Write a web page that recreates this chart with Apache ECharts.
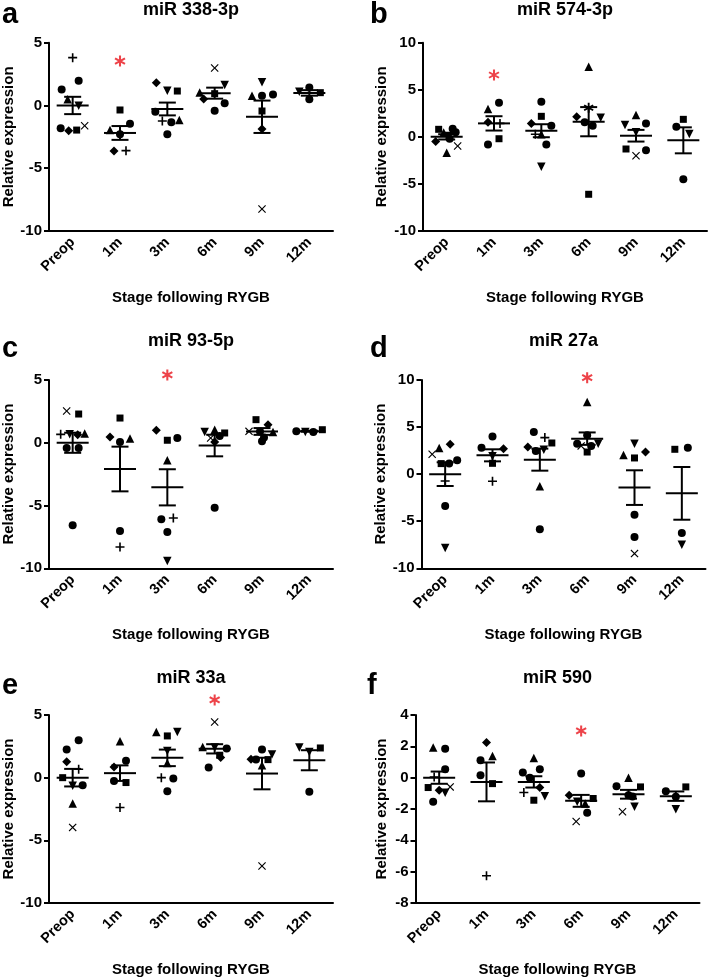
<!DOCTYPE html>
<html><head><meta charset="utf-8">
<script src="https://cdn.jsdelivr.net/npm/echarts/dist/echarts.min.js"></script>
<style>html,body{margin:0;padding:0;background:#fff}#c{width:709px;height:978px}</style>
</head><body><div id="c"></div><script>
const categories = ['Preop', '1m', '3m', '6m', '9m', '12m'];

// ---- a: miR 338-3p
const aValues = [[3.81,1.97,1.28,0.49,-0.02,-1.82,-2.01,-1.96,-1.61],[-0.36,-1.96,-1.45,-2.3,-3.63,-3.6],[1.81,1.18,1.15,-0.5,-1.24,-1.34,-1.16,-2.3],[2.98,1.63,1.04,0.94,0.51,0.17,-0.42],[1.84,0.78,0.78,0.88,-0.44,-1.88,-8.25],[1.44,1.1,1.02,0.49]];
const aSymbols = [['+','o','o','^','v','o','d','s','x'],['s','^','o','o','d','+'],['d','v','s','o','+','o','^','o'],['x','v','^','s','d','o','o'],['v','^','o','o','s','d','x'],['o','v','s','o']];
const aMeans = [0,-2.19,-0.28,0.98,-0.9,1.0];
const aSems = [0.69,0.55,0.51,0.44,1.29,0.22];
const aStar = [1, 3.54];

// ---- b: miR 574-3p
const bValues = [[0.8,0.45,0.85,0.5,0.1,-0.5,-0.2,-0.97,-1.68],[3.63,2.96,1.54,1.43,-0.8,-0.2],[3.73,2.18,1.43,1.19,0.27,0.27,-0.8,-3.17],[7.45,3.1,2.14,2.04,1.54,1.19,-6.1],[2.32,1.26,1.43,0.48,-1.29,-1.43,-2.0],[1.86,1.08,0.3,-4.51]];
const bSymbols = [['s','^','o','o','v','d','o','x','^'],['o','^','d','+','o','s'],['o','s','d','o','^','+','o','v'],['^','*','d','v','o','o','s'],['^','v','o','v','s','o','x'],['s','o','v','o']];
const bMeans = [0,1.43,0.65,1.61,0.12,-0.37];
const bSems = [0.28,0.76,0.69,1.55,0.62,1.38];
const bStar = [1, 6.57];

// ---- c: miR 93-5p
const cValues = [[2.53,2.29,0.67,0.67,0.64,0.73,-0.42,-0.42,-6.57],[1.97,0.46,0.06,0.33,-7.03,-8.3],[0.99,0.2,0.38,-1.4,-6.1,-5.99,-7.1,-9.41],[0.86,1.04,0.78,0.38,0.54,0.06,-5.17],[1.84,0.91,1.44,0.86,0.9,0.41,0.12],[0.91,0.86,0.86,1.04]];
const cSymbols = [['x','s','+','v','d','^','o','o','o'],['s','d','o','^','o','+'],['d','s','o','^','o','+','o','v'],['v','^','s','x','o','d','o'],['s','x','d','^','o','o','o'],['o','v','o','s']];
const cMeans = [0,-2.09,-3.55,-0.22,0.9,0.92];
const cSems = [0.8,1.78,1.44,0.86,0.27,0.04];
const cStar = [2, 5.4];

// ---- d: miR 27a
const dValues = [[2.11,2.78,3.17,1.12,1.12,1.47,-0.73,-3.38,-7.84],[4.0,2.8,2.7,1.9,1.15,-0.75],[4.48,3.88,3.31,2.88,2.46,2.6,-1.29,-5.86],[7.66,4.12,3.24,3.24,3.0,3.0,2.35],[3.24,2.04,1.72,2.35,-4.3,-6.67,-8.44],[2.64,2.81,-6.25,-7.49]];
const dSymbols = [['x','^','d','s','o','o','+','o','v'],['o','o','d','v','s','+'],['o','+','s','d','o','v','^','o'],['^','o','o','v','x','o','s'],['v','^','s','d','o','o','x'],['s','o','o','v']];
const dMeans = [0,2.0,1.54,3.77,-1.43,-2.04];
const dSems = [1.26,0.64,1.17,0.66,1.84,2.8];
const dStar = [3, 10.25];

// ---- e: miR 33a
const eValues = [[2.98,2.24,1.26,0.67,0.0,-0.65,-0.6,-2.06,-3.97],[2.9,1.34,0.86,-0.26,-0.39,-2.38],[3.65,3.33,3.65,2.13,1.18,0.0,-0.07,-1.08],[4.44,2.45,2.32,2.4,1.79,1.6,0.81],[2.24,1.84,1.47,1.44,1.44,0.99,-7.05],[2.4,2.37,2.05,-1.13]];
const eSymbols = [['o','o','d','+','s','v','o','^','x'],['^','o','d','o','s','+'],['^','s','v','v','^','+','o','o'],['x','^','o','v','s','d','o'],['o','v','d','s','o','^','x'],['v','s','v','o']];
const eMeans = [0,0.36,1.58,2.3,0.33,1.39];
const eSems = [0.7,0.62,0.66,0.37,1.26,0.8];
const eStar = [3, 6.2];

// ---- f: miR 590
const fValues = [[1.92,1.85,0.54,0.04,-0.63,-0.8,-0.97,-0.59,-1.54],[2.24,1.39,1.11,0.16,-0.38,-6.26],[1.26,0.33,0.54,0.0,-0.63,-0.95,-1.18,-1.44],[0.26,-1.12,-1.33,-1.54,-1.65,-2.24,-2.8],[-0.01,-0.55,-0.59,-1.12,-1.2,-1.86,-2.18],[-0.59,-0.86,-1.22,-2.01]];
const fSymbols = [['^','o','o','+','s','d','v','x','o'],['d','^','o','o','s','+'],['^','o','o','o','d','+','v','s'],['o','d','s','v','^','o','x'],['^','o','s','o','o','v','x'],['s','o','o','v']];
const fMeans = [0,-0.27,-0.27,-1.48,-1.06,-1.18];
const fSems = [0.39,1.24,0.36,0.38,0.28,0.3];
const fStar = [3, 2.98];

// horizontal jitter (pixels) of each point within its column (visual only)
const aJitter = [[0,6,-11,-5,6,-12,-4,4,12],[0,-10,10,0,-6,6],[-11,0,10,-12,-5,4,12,0],[0,10,-15,0,-11,10,0],[0,-10,0,11,0,0,0],[0,-10,11,0]];
const bJitter = [[-8,-3,6,9,2,-11,3,11,0],[5,-6,-6,6,-6,5],[0,0,-10,10,0,-6,5,0],[0,0,-12,12,-4,4,0],[0,-11,10,0,-10,10,0],[0,-7,6,0]];
const cJitter = [[-6,6,-12,-3,5,12,-6,6,0],[0,-10,0,10,0,0],[-11,0,10,0,-6,6,0,0],[-10,0,10,-4,5,0,0],[-6,-13,6,11,-2,2,0],[-13,-4,4,13]];
const dJitter = [[-13,-6,5,-4,4,12,0,0,0],[0,-11,11,0,0,0],[-6,5,12,-12,-4,4,0,0],[0,0,-10,11,-6,4,0],[0,-11,0,11,0,0,0],[-7,6,0,0]];
const eJitter = [[6,-6,-6,6,-10,0,10,0,0],[0,6,-6,-6,6,0],[-11,0,10,0,0,-6,6,0],[0,-12,12,0,5,6,-6],[0,10,-11,6,-6,0,0],[-10,11,0,0]];
const fJitter = [[-6,6,6,-5,-11,0,6,11,-6],[0,6,-6,-6,6,0],[0,-11,6,-4,6,-10,11,0],[0,-12,12,-4,4,6,-5],[0,-12,12,0,4,6,-6],[10,-10,0,0]];

const FONT = 'Liberation Sans, Arial, Helvetica, sans-serif';
const STAR = 'path://M4.1,0L5.9,0L5.9,10L4.1,10ZM1.12,1.72L9.78,6.72L8.88,8.28L0.22,3.28ZM9.78,3.28L1.12,8.28L0.22,6.72L8.88,1.72Z';
const SYM = {
  'o': ['circle', 8],
  's': ['rect', 7],
  '^': ['triangle', 8.5],
  'v': ['path://M0,0L10,0L5,9Z', 8.5],
  'd': ['diamond', 9],
  '+': ['path://M4.1,0H5.9V4.1H10V5.9H5.9V10H4.1V5.9H0V4.1H4.1Z', 9],
  'x': ['path://M0,1L1,0L5,4L9,0L10,1L6,5L10,9L9,10L5,6L1,10L0,9L4,5Z', 8],
  '*': [STAR, 10]
};

const panels = [
  {letter:'a', title:'miR 338-3p', vals:aValues, syms:aSymbols, jit:aJitter, means:aMeans, sems:aSems, star:aStar, min:-10, max:5, interval:5,
   grid:{left:49, top:42.7, width:284, height:188.3}, yGap:33, titleY:10, letterPos:[2,0]},
  {letter:'b', title:'miR 574-3p', vals:bValues, syms:bSymbols, jit:bJitter, means:bMeans, sems:bSems, star:bStar, min:-10, max:10, interval:5,
   grid:{left:423, top:42.7, width:284, height:188.3}, yGap:34, titleY:10, letterPos:[370,0]},
  {letter:'c', title:'miR 93-5p', vals:cValues, syms:cSymbols, jit:cJitter, means:cMeans, sems:cSems, star:cStar, min:-10, max:5, interval:5,
   grid:{left:49, top:380, width:284, height:188.3}, yGap:33, titleY:341, letterPos:[2,334]},
  {letter:'d', title:'miR 27a', vals:dValues, syms:dSymbols, jit:dJitter, means:dMeans, sems:dSems, star:dStar, min:-10, max:10, interval:5,
   grid:{left:421.5, top:380, width:284, height:188.3}, yGap:33, titleY:341, letterPos:[370,334]},
  {letter:'e', title:'miR 33a', vals:eValues, syms:eSymbols, jit:eJitter, means:eMeans, sems:eSems, star:eStar, min:-10, max:5, interval:5,
   grid:{left:49, top:715, width:284, height:188.3}, yGap:33, titleY:678, letterPos:[2,671]},
  {letter:'f', title:'miR 590', vals:fValues, syms:fSymbols, jit:fJitter, means:fMeans, sems:fSems, star:fStar, min:-8, max:4, interval:2,
   grid:{left:415.5, top:715, width:284, height:188.3}, yGap:26, titleY:678, letterPos:[367,671]}
];

const grids = [], xAxes = [], yAxes = [], series = [], graphics = [];
panels.forEach((p, k) => {
  grids.push(Object.assign({containLabel:false}, p.grid));
  xAxes.push({
    type:'category', gridIndex:k, data:categories, boundaryGap:true,
    name:'Stage following RYGB', nameLocation:'middle', nameGap:59,
    nameTextStyle:{fontFamily:FONT, fontWeight:'bold', fontSize:15, color:'#000'},
    axisLine:{onZero:false, lineStyle:{color:'#000', width:2}},
    axisTick:{alignWithLabel:true, length:5, lineStyle:{color:'#000', width:2}},
    axisLabel:{rotate:45, margin:9, fontFamily:FONT, fontWeight:'bold', fontSize:14.5, color:'#000'},
    splitLine:{show:false}
  });
  yAxes.push({
    type:'value', gridIndex:k, min:p.min, max:p.max, interval:p.interval,
    name:'Relative expression', nameLocation:'middle', nameGap:p.yGap,
    nameTextStyle:{fontFamily:FONT, fontWeight:'bold', fontSize:15, color:'#000'},
    axisLine:{show:true, onZero:false, lineStyle:{color:'#000', width:2}},
    axisTick:{show:true, length:5, lineStyle:{color:'#000', width:2}},
    axisLabel:{margin:7, fontFamily:FONT, fontWeight:'bold', fontSize:15, color:'#000'},
    splitLine:{show:false}
  });
  const pts = [];
  p.vals.forEach((col, i) => {
    col.forEach((v, j) => {
      const s = SYM[p.syms[i][j]];
      pts.push({value:[i, v], symbol:s[0], symbolSize:s[1], symbolOffset:[p.jit[i][j], 0]});
    });
  });
  series.push({type:'scatter', xAxisIndex:k, yAxisIndex:k, data:pts, clip:false,
    itemStyle:{color:'#000', opacity:1}, emphasis:{disabled:true}, silent:true, z:2});
  series.push({type:'custom', xAxisIndex:k, yAxisIndex:k, z:3, silent:true,
    data:p.means.map((m, i) => [i, m, p.sems[i]]),
    renderItem:function(params, api){
      const i = api.value(0), m = api.value(1), s = api.value(2);
      const c = api.coord([i, m]), t = api.coord([i, m + s]), b = api.coord([i, m - s]);
      const st = {stroke:'#000', lineWidth:2, fill:null};
      return {type:'group', children:[
        {type:'line', shape:{x1:c[0]-16, y1:c[1], x2:c[0]+16, y2:c[1]}, style:st},
        {type:'line', shape:{x1:c[0], y1:t[1], x2:c[0], y2:b[1]}, style:st},
        {type:'line', shape:{x1:c[0]-8.5, y1:t[1], x2:c[0]+8.5, y2:t[1]}, style:st},
        {type:'line', shape:{x1:c[0]-8.5, y1:b[1], x2:c[0]+8.5, y2:b[1]}, style:st}
      ]};
    }});
  series.push({type:'scatter', xAxisIndex:k, yAxisIndex:k, data:[p.star], clip:false,
    symbol:STAR, symbolSize:11, itemStyle:{color:'#e8141c'}, silent:true, z:4});
  graphics.push({type:'text', x:p.grid.left + p.grid.width/2, y:p.titleY,
    style:{text:p.title, font:'bold 18px ' + FONT, fill:'#000', align:'center', verticalAlign:'middle'}});
  graphics.push({type:'text', x:p.letterPos[0], y:p.letterPos[1],
    style:{text:p.letter, font:'bold 29px ' + FONT, fill:'#000', align:'left', verticalAlign:'top'}});
});

const chart = echarts.init(document.getElementById('c'), null, {renderer:'canvas'});
chart.setOption({
  backgroundColor:'#fff', animation:false,
  grid:grids, xAxis:xAxes, yAxis:yAxes, series:series, graphic:graphics
});
</script></body></html>
